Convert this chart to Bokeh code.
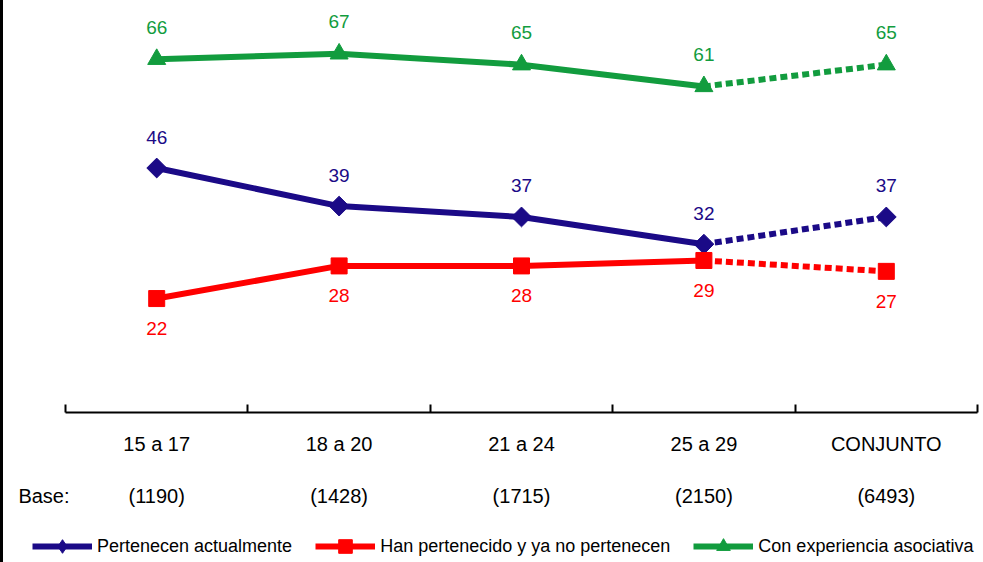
import math
from bokeh.plotting import figure
from bokeh.layouts import column
from bokeh.models import Range1d, LinearAxis, FixedTicker, Legend, LegendItem
from bokeh.core.properties import value
from bokeh.embed import file_html
from bokeh.resources import INLINE

categories = ["15 a 17", "18 a 20", "21 a 24", "25 a 29", "CONJUNTO"]
bases = ["(1190)", "(1428)", "(1715)", "(2150)", "(6493)"]
base_title = "Base:"
pertenecen = [46, 39, 37, 32, 37]
han_pertenecido = [22, 28, 28, 29, 27]
con_experiencia = [66, 67, 65, 61, 65]
series_names = ["Pertenecen actualmente", "Han pertenecido y ya no pertenecen",
                "Con experiencia asociativa"]

FONT = "Liberation Sans"
BLUE = "#1b0a87"
RED = "#ff0000"
GREEN = "#129c3e"

n = len(categories)
xs = [i + 0.5 for i in range(n)]
bounds = list(range(n + 1))
base_title_x = -0.118

p = figure(width=980, height=527, x_range=Range1d(-0.34, n), y_range=Range1d(1.05, 76.8),
           output_backend="svg", toolbar_location=None,
           x_axis_location=None, y_axis_location=None,
           min_border_left=0, min_border_right=6, min_border_top=0, min_border_bottom=115)
p.grid.visible = False
p.outline_line_color = None
p.background_fill_color = "white"
p.border_fill_color = "white"

# category axis: ticks at category boundaries (minor), labels at centres
ax1 = LinearAxis(ticker=FixedTicker(ticks=xs, minor_ticks=bounds), bounds=(0, n),
                 major_label_overrides={x: c for x, c in zip(xs, categories)})
ax1.axis_line_width = 2
ax1.axis_line_color = "black"
ax1.major_tick_line_color = None
ax1.minor_tick_in = 8
ax1.minor_tick_out = 0
ax1.minor_tick_line_width = 2
ax1.minor_tick_line_color = "black"
ax1.major_label_standoff = 14
ax1.major_label_text_font = FONT
ax1.major_label_text_font_size = "20px"
ax1.major_label_text_color = "black"
p.add_layout(ax1, "below")

ticks2 = [base_title_x] + xs
labels2 = [base_title] + bases
ax2 = LinearAxis(ticker=FixedTicker(ticks=ticks2, minor_ticks=[]),
                 major_label_overrides={x: b for x, b in zip(ticks2, labels2)})
ax2.axis_line_color = None
ax2.major_tick_line_color = None
ax2.minor_tick_line_color = None
ax2.major_label_standoff = 21
ax2.major_label_text_font = FONT
ax2.major_label_text_font_size = "20px"
ax2.major_label_text_color = "black"
p.add_layout(ax2, "below")

# legend strip underneath the chart
lg = figure(width=980, height=35, x_range=Range1d(0, 1), y_range=Range1d(0, 1),
            output_backend="svg", toolbar_location=None,
            x_axis_location=None, y_axis_location=None,
            min_border_left=0, min_border_right=0, min_border_top=0, min_border_bottom=0)
lg.grid.visible = False
lg.outline_line_color = None
lg.border_fill_color = "white"

items = []
specs = [(pertenecen, BLUE, "square", 14, math.pi / 4, -31, "diamond"),
         (han_pertenecido, RED, "square", 16, 0, 30, "square"),
         (con_experiencia, GREEN, "triangle", 18, 0, -32, "triangle")]
for name, (vals, col, mk, sz, ang, off, key_mk) in zip(series_names, specs):
    p.line(xs[:n - 1], vals[:n - 1], line_width=6, line_color=col)
    p.line(xs[n - 2:], vals[n - 2:], line_width=6, line_color=col, line_dash="7 4")
    p.scatter(xs, vals, marker=mk, size=sz, angle=ang, fill_color=col, line_color=col)
    p.text(xs, vals, text=[str(v) for v in vals], y_offset=off, text_align="center",
           text_baseline="middle", text_font=value(FONT), text_font_size="19px",
           text_color=col)
    # legend key renderers (not shown in the strip's frame)
    kl = lg.line(xs, vals, line_width=6, line_color=col, visible=False)
    ks = lg.scatter(xs, vals, marker=key_mk, size=sz, fill_color=col,
                    line_color=col, visible=False)
    items.append(LegendItem(label=name, renderers=[kl, ks]))

legend = Legend(items=items, orientation="horizontal", location=(29, -1),
                glyph_width=60, glyph_height=34, label_standoff=5, spacing=23,
                padding=0, margin=0, border_line_color=None, background_fill_alpha=0,
                label_text_font=FONT, label_text_font_size="18px", label_text_color="black")
lg.add_layout(legend)

layout = column(p, lg, spacing=0, styles={"border-left": "3px solid black"})

open("out.html", "w").write(file_html(layout, INLINE))
